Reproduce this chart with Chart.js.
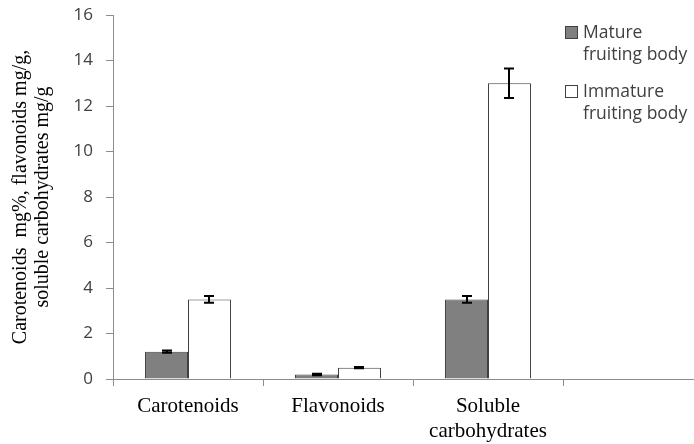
<!DOCTYPE html>
<html>
<head>
<meta charset="utf-8">
<script src="https://cdn.jsdelivr.net/npm/chart.js@4"></script>
<style>
  html, body { margin: 0; padding: 0; background: #fff; overflow: hidden; width: 694px; height: 444px; }
  #wrap { position: relative; width: 713px; height: 444px; }
</style>
</head>
<body>
<div id="wrap"><canvas id="c"></canvas></div>
<script>
const categories = [["Carotenoids"], ["Flavonoids"], ["Soluble", "carbohydrates"], [""]];
const seriesNames = [["Mature", "fruiting body"], ["Immature", "fruiting body"]];
const matureValues = [1.2, 0.2, 3.5, null];
const matureErrors = [0.05, 0.03, 0.15, null];
const immatureValues = [3.5, 0.5, 13.0, null];
const immatureErrors = [0.15, 0.03, 0.65, null];
const yTicks = [0, 2, 4, 6, 8, 10, 12, 14, 16];
const yTitle = ["Carotenoids  mg%, flavonoids mg/g,", "soluble carbohydrates mg/g"];

const fills = ["#808080", "#ffffff"];
const errs = [matureErrors, immatureErrors];

const errorBars = {
  id: "errorBars",
  afterDatasetsDraw(chart) {
    const ctx = chart.ctx;
    const y = chart.scales.y;
    ctx.save();
    ctx.strokeStyle = "#000";
    ctx.lineWidth = 2;
    chart.data.datasets.forEach((ds, di) => {
      const meta = chart.getDatasetMeta(di);
      meta.data.forEach((el, i) => {
        const v = ds.data[i], e = errs[di][i];
        if (v == null || e == null) return;
        const x = Math.round(el.x);
        const yt = y.getPixelForValue(v + e), yb = y.getPixelForValue(v - e);
        ctx.beginPath();
        ctx.moveTo(x, yt); ctx.lineTo(x, yb);
        ctx.moveTo(x - 5, yt); ctx.lineTo(x + 5, yt);
        ctx.moveTo(x - 5, yb); ctx.lineTo(x + 5, yb);
        ctx.stroke();
      });
    });
    ctx.restore();
  }
};

const legendPlugin = {
  id: "customLegend",
  afterDraw(chart) {
    const ctx = chart.ctx;
    ctx.save();
    ctx.font = "17.5px 'Open Sans'";
    ctx.textBaseline = "middle";
    const boxX = 565, textX = 583;
    const rows = [33, 92];
    chart.data.datasets.forEach((ds, di) => {
      const yc = rows[di];
      ctx.fillStyle = fills[di];
      ctx.fillRect(boxX + 0.5, yc - 6.5, 12, 12);
      ctx.strokeStyle = "#404040";
      ctx.lineWidth = 1;
      ctx.strokeRect(boxX + 0.5, yc - 6.5, 12, 12);
      ctx.fillStyle = "#404040";
      seriesNames[di].forEach((t, li) => ctx.fillText(t, textX, yc + li * 22.5));
    });
    ctx.restore();
  }
};

new Chart(document.getElementById("c"), {
  type: "bar",
  data: {
    labels: categories,
    datasets: [
      { label: seriesNames[0].join(" "), data: matureValues, backgroundColor: fills[0], borderColor: "#404040", borderWidth: 1 },
      { label: seriesNames[1].join(" "), data: immatureValues, backgroundColor: fills[1], borderColor: "#404040", borderWidth: 1 }
    ]
  },
  options: {
    responsive: true,
    maintainAspectRatio: false,
    animation: false,
    devicePixelRatio: 1,
    layout: { padding: { top: 15, left: 0, right: 0, bottom: 0 } },
    datasets: { bar: { categoryPercentage: 0.573, barPercentage: 1.0 } },
    plugins: { legend: { display: false }, tooltip: { enabled: false } },
    scales: {
      x: {
        grid: { display: true, drawOnChartArea: false, offset: true, tickLength: 7, color: "#8c8c8c" },
        border: { color: "#8c8c8c", width: 1 },
        ticks: { font: { family: "'Liberation Serif'", size: 21, lineHeight: 1.2 }, color: "#000", padding: 8, maxRotation: 0, autoSkip: false },
        afterFit(s) { s.height = 65; s.paddingLeft = 0; s.paddingRight = 0; }
      },
      y: {
        min: 0, max: 16,
        afterBuildTicks(s) { s.ticks = yTicks.map(v => ({ value: v })); },
        grid: { display: true, drawOnChartArea: false, tickLength: 7, color: "#8c8c8c" },
        border: { color: "#8c8c8c", width: 1 },
        ticks: { font: { family: "'Open Sans'", size: 17 }, color: "#404040", padding: 13 },
        title: { display: true, text: yTitle, font: { family: "'Liberation Serif'", size: 20, lineHeight: 1.1 }, color: "#000", padding: { top: 10, bottom: 0 } },
        afterFit(s) { s.width = 113; s.paddingTop = 0; s.paddingBottom = 0; }
      }
    }
  },
  plugins: [errorBars, legendPlugin]
});
</script>
</body>
</html>
